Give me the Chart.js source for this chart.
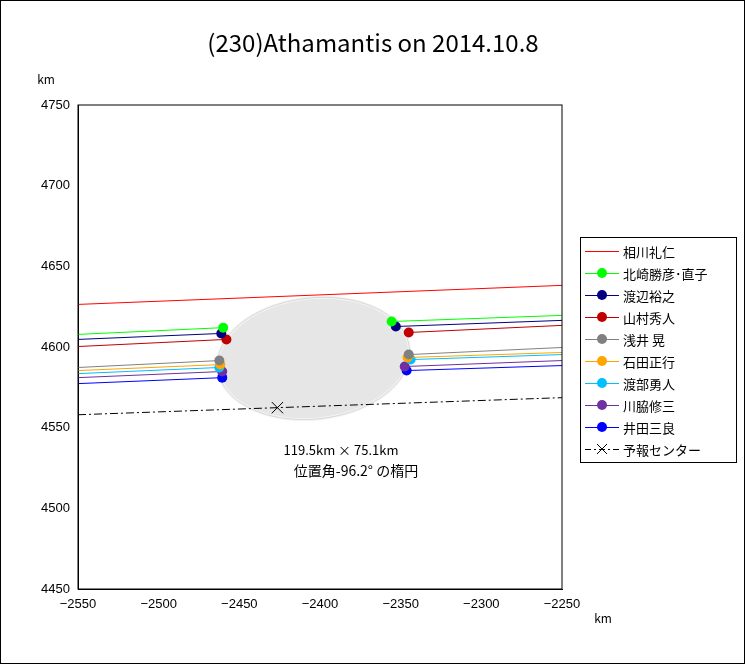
<!DOCTYPE html>
<html><head><meta charset="utf-8">
<script src="https://cdn.jsdelivr.net/npm/chart.js@4/dist/chart.umd.min.js"></script>
<style>
body{margin:0;background:#fff;font-family:"Noto Sans CJK JP",sans-serif}
#wrap{position:relative;width:743px;height:662px;border:1px solid #000}
#legend{position:absolute;left:579px;top:236px;width:155px;border:1px solid #000;background:#fff;font-size:13px;padding:2px 0}
#legend div{height:22px;display:flex;align-items:center}
#legend canvas{margin:0 4px 0 4px}
</style></head><body>
<div id="wrap"><canvas id="c" width="743" height="662"></canvas><div id="legend"></div></div>
<script>
// ===== DATA =====
const observers = ["相川礼仁","北崎勝彦･直子","渡辺裕之","山村秀人","浅井 晃","石田正行","渡部勇人","川脇修三","井田三良"];
const colors = ["#ff0000","#00ff00","#000080","#c00000","#808080","#ffa500","#00c0ff","#7030a0","#0000ff"];
// [left-edge y, disappear x, disappear y, reappear x, reappear y, right-edge y]
const chords = [
  [4626.4, null, null, null, null, 4638.2],
  [4607.8, -2460.0, 4612.0, -2355.6, 4615.8, 4619.6],
  [4604.7, -2461.2, 4608.4, -2353.0, 4612.7, 4616.5],
  [4600.3, -2458.0, 4604.7, -2345.0, 4609.0, 4613.4],
  [4587.3, -2462.4, 4591.6, -2345.0, 4595.3, 4599.7],
  [4585.4, -2461.8, 4589.1, -2345.7, 4593.5, 4596.6],
  [4583.5, -2462.4, 4587.3, -2343.8, 4592.2, 4595.3],
  [4581.0, -2460.6, 4584.8, -2347.5, 4587.9, 4591.6],
  [4577.3, -2460.6, 4581.0, -2346.3, 4585.4, 4588.5]
];
const forecast = [[-2550, 4558.0], [-2426.4, 4562.4], [-2250, 4568.6]];
const ellipse = { cx: -2404.0, cy: 4592.9, a: 119.5 / 2, b: 75.1 / 2, pa: -96.2 };
const xTicks = [-2550, -2500, -2450, -2400, -2350, -2300, -2250];
const yTicks = [4450, 4500, 4550, 4600, 4650, 4700, 4750];

// ===== DATASETS =====
const datasets = chords.map((c, i) => {
  let data, radius;
  if (c[1] === null) {
    data = [{x: -2550, y: c[0]}, {x: -2250, y: c[5]}];
    radius = [0, 0];
  } else {
    data = [{x: -2550, y: c[0]}, {x: c[1], y: c[2]}, {x: -2400, y: null}, {x: c[3], y: c[4]}, {x: -2250, y: c[5]}];
    radius = [0, 5, 0, 5, 0];
  }
  return {label: observers[i], data, borderColor: colors[i], backgroundColor: colors[i],
    borderWidth: 1, pointRadius: radius, pointBorderWidth: 0, spanGaps: false, order: i};
});
datasets.push({label: "予報センター", data: forecast.map(p => ({x: p[0], y: p[1]})),
  borderColor: "#000", borderWidth: 1, borderDash: [8, 3, 2, 3], pointStyle: "cross",
  pointRotation: 45, pointRadius: [0, 8, 0], pointBorderWidth: 1, pointBorderColor: "#000"});

// ===== ELLIPSE + TEXT =====
const decor = {
  id: "decor",
  beforeDatasetsDraw(chart) {
    const {ctx, scales: {x, y}} = chart;
    const t = (ellipse.pa + 90) * Math.PI / 180; // tilt from horizontal
    ctx.save();
    ctx.beginPath();
    for (let k = 0; k <= 120; k++) {
      const u = k / 120 * 2 * Math.PI;
      const ex = ellipse.a * Math.cos(u), ey = ellipse.b * Math.sin(u);
      const px = ellipse.cx + ex * Math.cos(t) + ey * Math.sin(t);
      const py = ellipse.cy - ex * Math.sin(t) + ey * Math.cos(t);
      const X = x.getPixelForValue(px), Y = y.getPixelForValue(py);
      k ? ctx.lineTo(X, Y) : ctx.moveTo(X, Y);
    }
    ctx.closePath();
    ctx.fillStyle = "#e6e6e6"; ctx.fill();
    ctx.strokeStyle = "#f4f4f4"; ctx.lineWidth = 3; ctx.stroke();
    ctx.strokeStyle = "#d8d8d8"; ctx.lineWidth = 1; ctx.stroke();
    ctx.restore();
  },
  afterDraw(chart) {
    const {ctx, chartArea: a} = chart;
    ctx.save();
    ctx.strokeStyle = "#000"; ctx.lineWidth = 1;
    ctx.strokeRect(a.left, a.top, a.right - a.left, a.bottom - a.top);
    ctx.fillStyle = "#000"; ctx.textAlign = "center"; ctx.textBaseline = "middle";
    ctx.font = "24px 'Noto Sans CJK JP'";
    ctx.fillText("(230)Athamantis on 2014.10.8", 372, 42);
    ctx.font = "12px 'Noto Sans CJK JP'";
    ctx.fillText("km", 45, 78);
    ctx.fillText("km", 602, 617);
    ctx.font = "13px 'Noto Sans CJK JP'";
    ctx.fillText("119.5km × 75.1km", 340, 449);
    ctx.font = "14px 'Noto Sans CJK JP'";
    ctx.fillText("位置角-96.2° の楕円", 355, 470);
    ctx.restore();
  }
};

new Chart(document.getElementById("c"), {
  type: "line",
  data: {datasets},
  options: {
    responsive: false, animation: false,
    layout: {padding: {left: 0, top: 104, right: 182, bottom: 0}},
    plugins: {legend: {display: false}, tooltip: {enabled: false}},
    scales: {
      x: {type: "linear", min: -2550, max: -2250,
        afterBuildTicks: s => { s.ticks = xTicks.map(v => ({value: v})); },
        afterFit: s => { s.height = 74; },
        grid: {display: false, drawTicks: true, tickLength: 5},
        border: {color: "#000"},
        ticks: {color: "#000", font: {size: 13, family: "Liberation Sans"}, callback: v => String(v).replace("-", "−")}},
      y: {type: "linear", min: 4450, max: 4750,
        afterBuildTicks: s => { s.ticks = yTicks.map(v => ({value: v})); },
        afterFit: s => { s.width = 77; },
        grid: {display: false, tickLength: 5},
        border: {color: "#000"},
        ticks: {color: "#000", font: {size: 13, family: "Liberation Sans"}, callback: v => String(v)}}
    }
  },
  plugins: [decor]
});

// ===== LEGEND =====
const leg = document.getElementById("legend");
observers.concat(["予報センター"]).forEach((name, i) => {
  const row = document.createElement("div");
  const cv = document.createElement("canvas");
  cv.width = 34; cv.height = 12;
  const g = cv.getContext("2d");
  g.lineWidth = 1;
  if (i < observers.length) {
    g.strokeStyle = colors[i];
    g.beginPath(); g.moveTo(0, 6.5); g.lineTo(34, 6.5); g.stroke();
    if (i > 0) { g.fillStyle = colors[i]; g.beginPath(); g.arc(17, 6, 5, 0, 7); g.fill(); }
  } else {
    g.strokeStyle = "#000"; g.setLineDash([6, 3, 2, 3]);
    g.beginPath(); g.moveTo(0, 6.5); g.lineTo(34, 6.5); g.stroke();
    g.setLineDash([]);
    g.beginPath(); g.moveTo(12, 1); g.lineTo(22, 11); g.moveTo(22, 1); g.lineTo(12, 11); g.stroke();
  }
  row.appendChild(cv);
  row.appendChild(document.createTextNode(name));
  leg.appendChild(row);
});
</script>
</body></html>
